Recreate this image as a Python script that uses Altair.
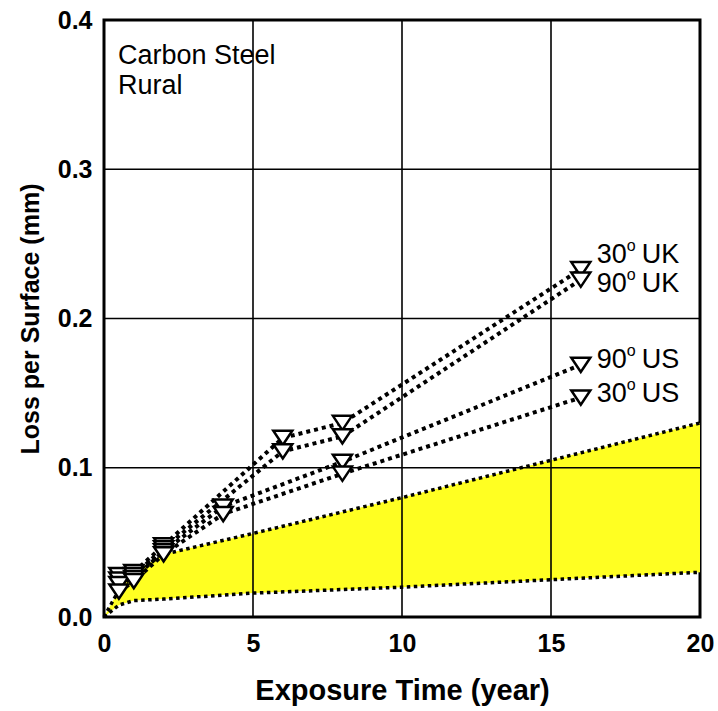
import altair as alt
import pandas as pd

# Exposure times (years) and measured loss per surface (mm)
uk_years = [0.5, 1, 2, 6, 8, 16]
us_years = [0.5, 1, 2, 4, 8, 16]
uk30 = [0.028, 0.030, 0.048, 0.120, 0.130, 0.233]
uk90 = [0.025, 0.028, 0.046, 0.111, 0.121, 0.226]
us90 = [0.022, 0.026, 0.044, 0.074, 0.104, 0.169]
us30 = [0.017, 0.024, 0.042, 0.069, 0.096, 0.147]

# Reference band (shaded region between the two dotted curves)
band_years = [0, 0.5, 1, 2, 5, 10, 15, 20]
band_upper = [0, 0.018, 0.030, 0.042, 0.056, 0.080, 0.105, 0.130]
band_lower = [0, 0.008, 0.011, 0.012, 0.016, 0.020, 0.025, 0.030]

x_ticks = [0, 5, 10, 15, 20]
y_ticks = [0.0, 0.1, 0.2, 0.3, 0.4]

series = [
    ("30 UK", "30", "UK", uk_years, uk30),
    ("90 UK", "90", "UK", uk_years, uk90),
    ("90 US", "90", "US", us_years, us90),
    ("30 US", "30", "US", us_years, us30),
]
label_dy = {"30 UK": -14, "90 UK": 4, "90 US": -5, "30 US": -4}

rows = []
for name, ang, site, xs, ys in series:
    for xv, yv in zip(xs, ys):
        rows.append({"t": xv, "loss": yv, "series": name, "ang": ang, "site": site})
data = pd.DataFrame(rows)

band = pd.DataFrame({"t": band_years, "hi": band_upper, "lo": band_lower})

FONT = "Liberation Sans"
xs = alt.Scale(domain=[0, 20], nice=False, zero=False)
ys = alt.Scale(domain=[0, 0.4], nice=False, zero=False)

x_axis = alt.Axis(values=x_ticks, grid=False, ticks=False, domain=False,
                  labelPadding=14, titlePadding=20, labelFontSize=25,
                  titleFontSize=29, labelFlush=False)
y_axis = alt.Axis(values=y_ticks, format=".1f", grid=False, ticks=False,
                  domain=False, labelPadding=12, titlePadding=14,
                  labelFontSize=25, titleFontSize=25, labelFlush=False)

base_band = alt.Chart(band)

area = base_band.mark_area(color="#ffff22", opacity=1).encode(
    x=alt.X("t:Q", scale=xs, axis=x_axis, title="Exposure Time (year)"),
    y=alt.Y("hi:Q", scale=ys, axis=y_axis, title="Loss per Surface (mm)"),
    y2="lo:Q",
)

grid_x = alt.Chart(pd.DataFrame({"t": x_ticks[1:-1]})).mark_rule(
    color="black", strokeWidth=1.6
).encode(x=alt.X("t:Q", scale=xs))
grid_y = alt.Chart(pd.DataFrame({"v": y_ticks[1:-1]})).mark_rule(
    color="black", strokeWidth=1.6
).encode(y=alt.Y("v:Q", scale=ys))

band_hi_line = base_band.mark_line(
    color="black", strokeWidth=3.5, strokeDash=[3.5, 3.5]
).encode(x=alt.X("t:Q", scale=xs), y=alt.Y("hi:Q", scale=ys))
band_lo_line = base_band.mark_line(
    color="black", strokeWidth=3.5, strokeDash=[3.5, 3.5]
).encode(x=alt.X("t:Q", scale=xs), y=alt.Y("lo:Q", scale=ys))

base = alt.Chart(data)
lines = base.mark_line(color="black", strokeWidth=4, strokeDash=[4, 4]).encode(
    x=alt.X("t:Q", scale=xs),
    y=alt.Y("loss:Q", scale=ys),
    detail="series:N",
    order="t:Q",
)
points = base.mark_point(
    shape="M-1,-0.75L1,-0.75L0,0.75Z", size=361, filled=False,
    fill="white", fillOpacity=1, stroke="black", strokeWidth=2.5, opacity=1
).encode(
    x=alt.X("t:Q", scale=xs),
    y=alt.Y("loss:Q", scale=ys),
)

labels = []
for name, ang, site, xs_, ys_ in series:
    last = data[(data.series == name) & (data.t == xs_[-1])]
    d = label_dy[name]
    common = dict(font=FONT, color="black", align="left", baseline="middle")
    labels.append(alt.Chart(last).mark_text(fontSize=27, dx=16, dy=d, **common).encode(
        x=alt.X("t:Q", scale=xs), y=alt.Y("loss:Q", scale=ys), text="ang:N"))
    labels.append(alt.Chart(last).mark_text(fontSize=16, dx=46, dy=d - 9, **common).encode(
        x=alt.X("t:Q", scale=xs), y=alt.Y("loss:Q", scale=ys), text=alt.value("o")))
    labels.append(alt.Chart(last).mark_text(fontSize=27, dx=61, dy=d, **common).encode(
        x=alt.X("t:Q", scale=xs), y=alt.Y("loss:Q", scale=ys), text="site:N"))

note = alt.Chart(pd.DataFrame({"txt": ["Carbon Steel\nRural"]})).mark_text(
    font=FONT, fontSize=27, color="black", align="left", baseline="top",
    lineBreak="\n", lineHeight=30
).encode(x=alt.value(14), y=alt.value(23), text="txt:N")

chart = alt.layer(
    area, grid_x, grid_y, band_hi_line, band_lo_line, lines, points, *labels, note
).properties(
    width=596, height=597,
    autosize=alt.AutoSizeParams(type="none"),
    padding={"left": 104, "top": 20, "right": 18, "bottom": 94},
    background="white",
).configure_view(
    stroke="black", strokeWidth=3
).configure_axis(
    labelFont=FONT, titleFont=FONT, labelFontWeight="bold",
    titleFontWeight="bold", labelColor="black", titleColor="black",
)

chart.save("out.html", embed_options={"renderer": "svg", "actions": False})
